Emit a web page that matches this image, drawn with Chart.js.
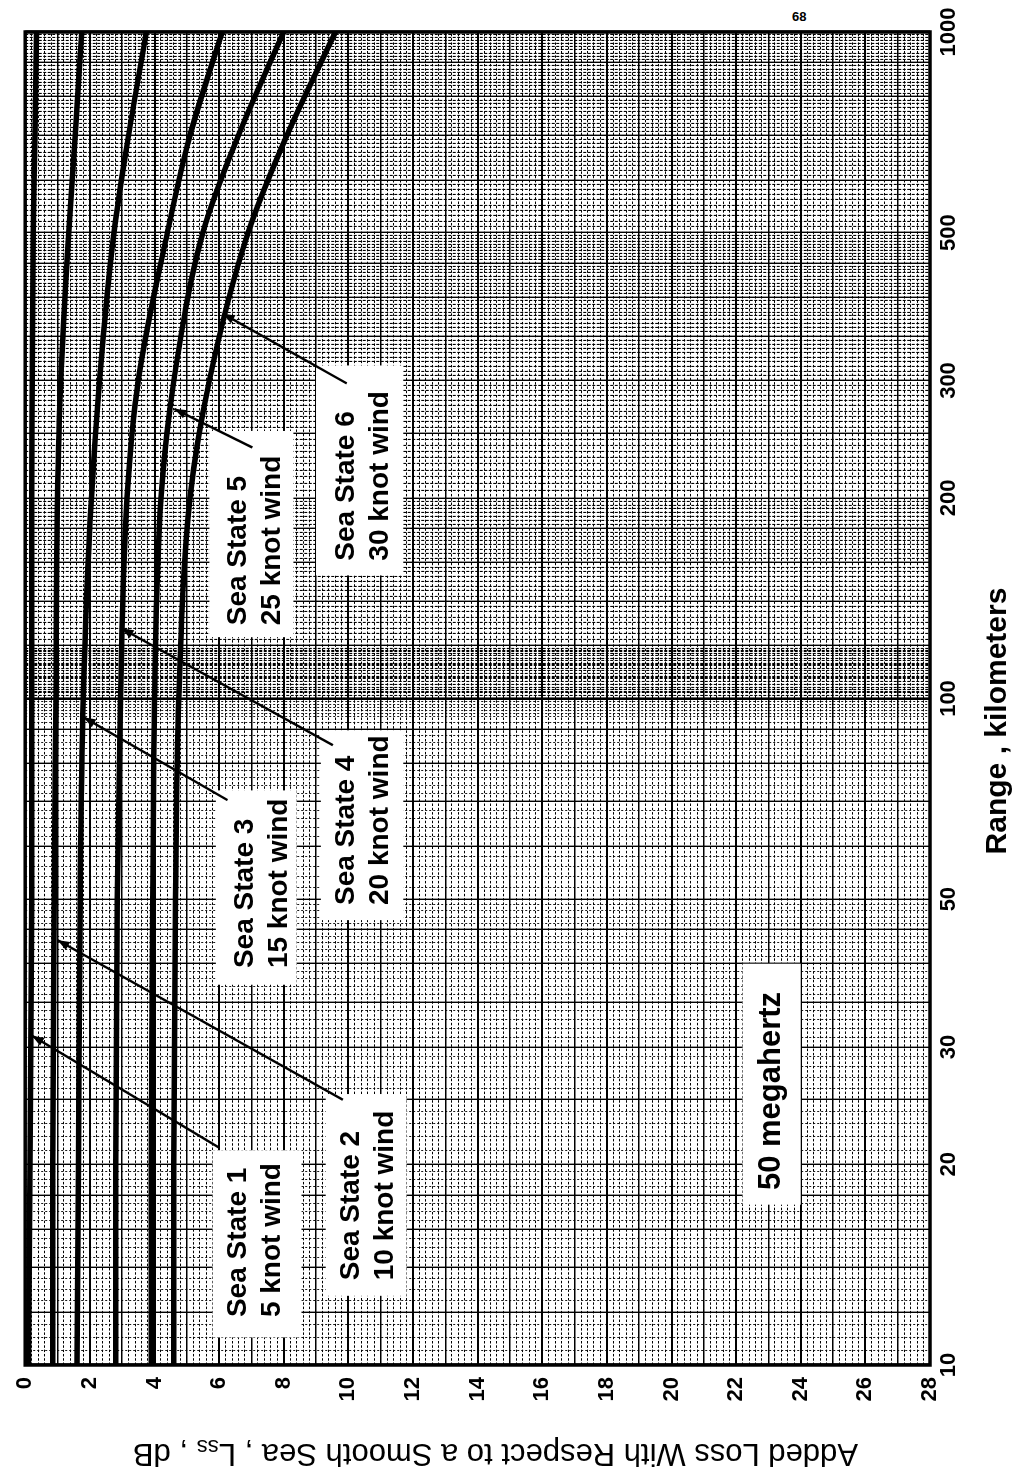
<!DOCTYPE html>
<html>
<head>
<meta charset="utf-8">
<script src="https://cdn.jsdelivr.net/npm/chart.js@4.4.0/dist/chart.umd.min.js"></script>
<style>
  html, body { margin: 0; padding: 0; background: #fff; overflow: hidden; }
  body { width: 1015px; height: 1475px; position: relative; }
  #pageNo { position: absolute; left: 792px; top: 9px; font: bold 13px "Liberation Sans", Arial, sans-serif; }
  #wrap { position: absolute; left: 0; top: 0; width: 1475px; height: 1015px;
          transform-origin: 0 0; transform: translate(0, 1475px) rotate(-90deg); }
</style>
</head>
<body>
<div id="pageNo">68</div>
<div id="wrap"><canvas id="chart"></canvas></div>
<script>
// Range in km (x, log) and added loss in dB (y)
const rangeKm   = [10, 20, 50, 100, 200, 300, 500, 700, 1000];
const seaState1 = [0.1, 0.15, 0.2, 0.2, 0.2, 0.22, 0.25, 0.3, 0.35];
const seaState2 = [0.85, 0.85, 0.9, 0.95, 1.0, 1.1, 1.35, 1.55, 1.75];
const seaState3 = [1.6, 1.65, 1.7, 1.8, 2.05, 2.3, 2.75, 3.2, 3.75];
const seaState4 = [2.8, 2.8, 2.85, 2.95, 3.15, 3.5, 4.4, 5.1, 6.1];
const seaState5 = [3.9, 3.9, 3.95, 4.0, 4.2, 4.6, 5.5, 6.6, 8.0];
const seaState6 = [4.6, 4.6, 4.65, 4.75, 5.1, 5.7, 6.9, 8.1, 9.6];

const rangeLabels = [10, 20, 30, 50, 100, 200, 300, 500, 1000];
const lossLabels = [0, 2, 4, 6, 8, 10, 12, 14, 16, 18, 20, 22, 24, 26, 28];

// Curve labels: text, where the text starts [km, dB], white box [km0, km1, dB0, dB1]
const noteText = [
    ['Sea State 1', '5 knot wind'],
    ['Sea State 2', '10 knot wind'],
    ['Sea State 3', '15 knot wind'],
    ['Sea State 4', '20 knot wind'],
    ['Sea State 5', '25 knot wind'],
    ['Sea State 6', '30 knot wind'],
    ['50 megahertz']
];
const noteAt = [[11.8, 6.6], [13.4, 10.1], [39.4, 6.8], [49.0, 9.95], [128.8, 6.6], [161, 9.95], [18.3, 23.1]];
const noteBox = [
    [11.0, 21.0, 5.8, 8.55],
    [12.7, 25.5, 9.3, 11.8],
    [37.2, 72.8, 5.9, 8.4],
    [46.5, 89.6, 9.15, 11.7],
    [123.6, 252, 5.7, 8.3],
    [153, 316, 9.0, 11.7],
    [17.4, 40.0, 22.2, 24.0]
];
// Leader lines: tip on the curve, tail at the label
const arrowTip  = [[31.2, 0.21], [43.4, 1.0], [93.7, 1.81], [127.4, 2.98], [272, 4.61], [378, 6.11]];
const arrowTail = [[21.2, 5.99], [25.0, 9.83], [70.4, 6.26], [85.1, 9.52], [238, 7.03], [297, 9.95]];

// Graph paper lines
const lossGrid = [];
for (let i = 0; i <= 140; i++) lossGrid.push(Math.round(i * 2) / 10);

const rangeGrid = [];
[[10, 20, 0.5], [20, 50, 1], [50, 100, 2], [100, 200, 2.5], [200, 500, 5], [500, 1000, 10], [95, 120, 1]]
    .forEach(([a, b, s]) => {
        for (let v = a; v <= b + 1e-9; v += s) rangeGrid.push(Math.round(v * 100) / 100);
    });
const rangeTicks = [...new Set(rangeGrid)].sort((a, b) => a - b);
const majorRatios = [1, 1.2, 1.4, 1.6, 1.8, 2, 2.5, 3, 3.5, 4, 4.5, 5, 6, 7, 8, 9];

function rangeKind(v) {
    const d = v >= 1000 ? 1000 : (v >= 100 ? 100 : 10);
    const r = Math.round(v / d * 100) / 100;
    if (r === 1) return 'heavy';
    return majorRatios.includes(r) ? 'major' : 'minor';
}

function lossKind(v) {
    if (Math.abs(v - Math.round(v)) > 1e-6) return 'minor';
    return Math.round(v) % 2 === 0 ? 'heavy' : 'major';
}

const FONT = '"Liberation Sans", Arial, sans-serif';

const paperPlugin = {
    id: 'paper',
    beforeDatasetsDraw(chart) {
        const {ctx, scales: {x, y}} = chart;
        ctx.save();
        ctx.fillStyle = '#fff';
        noteBox.forEach(b => {
            const x0 = x.getPixelForValue(b[0]), x1 = x.getPixelForValue(b[1]);
            const y0 = y.getPixelForValue(b[2]), y1 = y.getPixelForValue(b[3]);
            ctx.fillRect(Math.min(x0, x1), Math.min(y0, y1), Math.abs(x1 - x0), Math.abs(y1 - y0));
        });
        ctx.restore();
    },
    afterDatasetsDraw(chart) {
        const {ctx, scales: {x, y}} = chart;
        ctx.save();
        ctx.strokeStyle = '#000';
        ctx.fillStyle = '#000';
        ctx.lineWidth = 2.4;
        arrowTip.forEach((tip, i) => {
            const tx = x.getPixelForValue(tip[0]), ty = y.getPixelForValue(tip[1]);
            const sx = x.getPixelForValue(arrowTail[i][0]), sy = y.getPixelForValue(arrowTail[i][1]);
            ctx.beginPath();
            ctx.moveTo(sx, sy);
            ctx.lineTo(tx, ty);
            ctx.stroke();
            // small arrow head at the curve
            const a = Math.atan2(ty - sy, tx - sx);
            ctx.beginPath();
            ctx.moveTo(tx, ty);
            ctx.lineTo(tx - 12 * Math.cos(a) + 4.5 * Math.sin(a), ty - 12 * Math.sin(a) - 4.5 * Math.cos(a));
            ctx.lineTo(tx - 12 * Math.cos(a) - 4.5 * Math.sin(a), ty - 12 * Math.sin(a) + 4.5 * Math.cos(a));
            ctx.closePath();
            ctx.fill();
        });

        ctx.textAlign = 'left';
        ctx.textBaseline = 'middle';
        noteText.forEach((lines, i) => {
            const px = x.getPixelForValue(noteAt[i][0]);
            const py = y.getPixelForValue(noteAt[i][1]);
            ctx.font = (lines.length === 1 ? 'bold 31px ' : 'bold 28px ') + FONT;
            lines.forEach((t, k) => ctx.fillText(t, px, py + k * 34));
        });
        ctx.restore();
    },
    afterDraw(chart) {
        const {ctx, chartArea: ca} = chart;
        ctx.save();
        ctx.strokeStyle = '#000';
        ctx.lineWidth = 3.5;
        ctx.strokeRect(ca.left, ca.top, ca.right - ca.left, ca.bottom - ca.top);

        // x title
        ctx.fillStyle = '#000';
        ctx.font = 'bold 30px ' + FONT;
        ctx.textAlign = 'center';
        ctx.textBaseline = 'middle';
        ctx.fillText('Range , kilometers', 754, 998);

        // y title with subscript
        ctx.translate(22, 858);
        ctx.rotate(-Math.PI / 2);
        ctx.textAlign = 'left';
        ctx.font = '31px ' + FONT;
        let cx = 0;
        const part1 = 'Added Loss With Respect to a Smooth Sea , L';
        ctx.fillText(part1, cx, 0);
        cx += ctx.measureText(part1).width;
        ctx.font = '22px ' + FONT;
        ctx.fillText('ss', cx, 7);
        cx += ctx.measureText('ss').width;
        ctx.font = '31px ' + FONT;
        ctx.fillText(' , dB', cx, 0);
        ctx.restore();
    }
};

const series = [seaState1, seaState2, seaState3, seaState4, seaState5, seaState6];

new Chart(document.getElementById('chart'), {
    type: 'scatter',
    data: {
        datasets: series.map((vals, i) => ({
            label: 'Sea State ' + (i + 1),
            data: rangeKm.map((r, k) => ({x: r, y: vals[k]})),
            showLine: true,
            borderColor: '#000',
            borderWidth: 5.5,
            pointRadius: 0,
            cubicInterpolationMode: 'monotone',
            fill: false
        }))
    },
    options: {
        responsive: true,
        maintainAspectRatio: false,
        animation: false,
        layout: {padding: {left: 0, right: 32, top: 18, bottom: 0}},
        plugins: {legend: {display: false}, tooltip: {enabled: false}},
        scales: {
            x: {
                type: 'logarithmic',
                min: 10,
                max: 1000,
                afterBuildTicks: scale => { scale.ticks = rangeTicks.map(v => ({value: v})); },
                afterFit: scale => { scale.height = 85; },
                ticks: {
                    autoSkip: false,
                    maxRotation: 0,
                    minRotation: 0,
                    padding: 6,
                    color: '#000',
                    font: {family: FONT, size: 22, weight: 'bold'},
                    callback: v => rangeLabels.includes(v) ? String(v) : ''
                },
                grid: {
                    drawTicks: false,
                    color: '#000',
                    lineWidth: c => {
                        const v = c.tick ? c.tick.value : 10;
                        const k = rangeKind(v);
                        if (k === 'heavy') return 2.6;
                        if (k === 'major') return 1.4;
                        return v >= 100 ? 1.1 : 0.9;
                    }
                },
                border: {
                    display: false,
                    dash: c => {
                        if (!c.tick || rangeKind(c.tick.value) !== 'minor') return [];
                        return c.tick.value >= 100 ? [3, 1.5] : [2, 2];
                    }
                }
            },
            y: {
                type: 'linear',
                min: 0,
                max: 28,
                reverse: true,
                afterBuildTicks: scale => { scale.ticks = lossGrid.map(v => ({value: v})); },
                afterFit: scale => { scale.width = 110; },
                ticks: {
                    autoSkip: false,
                    padding: 12,
                    color: '#000',
                    font: {family: FONT, size: 22, weight: 'bold'},
                    callback: v => {
                        const r = Math.round(v * 10) / 10;
                        return lossLabels.includes(r) ? String(r) : '';
                    }
                },
                grid: {
                    drawTicks: false,
                    color: '#000',
                    lineWidth: c => {
                        const k = lossKind(c.tick ? c.tick.value : 0);
                        return k === 'heavy' ? 1.9 : (k === 'major' ? 1.4 : 1.0);
                    }
                },
                border: {
                    display: false,
                    dash: c => (c.tick && lossKind(c.tick.value) === 'minor') ? [2.5, 1.8] : []
                }
            }
        }
    },
    plugins: [paperPlugin]
});
</script>
</body>
</html>
